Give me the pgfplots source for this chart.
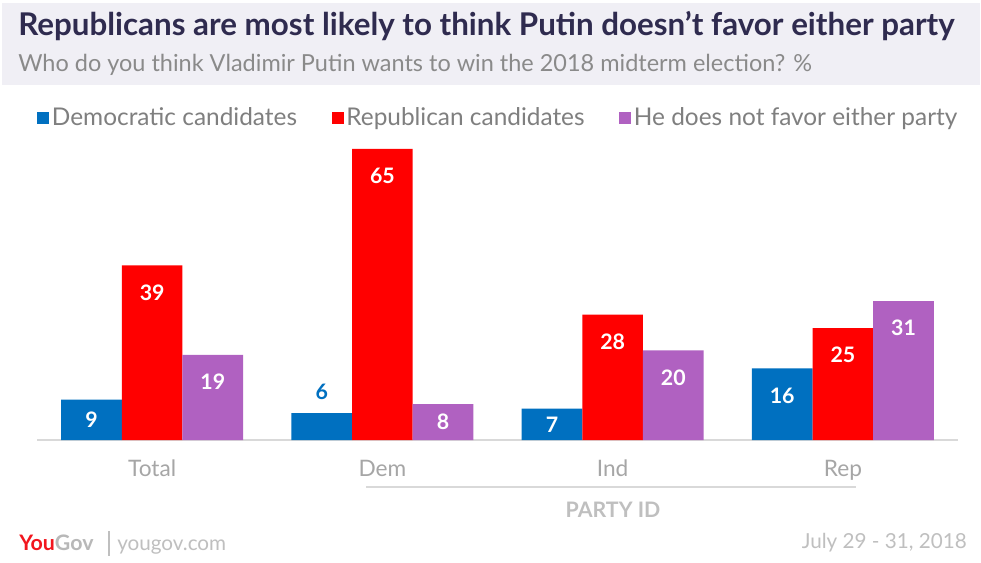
\documentclass[border=0pt]{standalone}
\usepackage{pgfplots}
\pgfplotsset{compat=1.18}
\usepackage{pgfplotstable}
\usepackage{fontspec}
\setmainfont{Lato}

\definecolor{hdrbg}{HTML}{F0EFF5}
\definecolor{titlecol}{HTML}{2F2B4F}
\definecolor{subgray}{HTML}{8A8A8A}
\definecolor{legendgray}{HTML}{7F7F7F}
\definecolor{tickgray}{HTML}{A6A6A6}
\definecolor{partygray}{HTML}{BFBFBF}
\definecolor{basegray}{HTML}{D9D9D9}
\definecolor{ygblue}{HTML}{0070C0}
\definecolor{ygred}{HTML}{FF0000}
\definecolor{ygpurple}{HTML}{B061C1}
\definecolor{logored}{HTML}{F2161E}
\definecolor{logogray}{HTML}{B8B8B8}

% 0 = Total, 1 = Dem, 2 = Ind, 3 = Rep
\pgfplotstableread{
x y
0 9
1 6
2 7
3 16
}\demcand
\pgfplotstableread{
x y
0 39
1 65
2 28
3 25
}\repcand
\pgfplotstableread{
x y
0 19
1 8
2 20
3 31
}\neither

\begin{document}
\begin{tikzpicture}[x=0.75pt,y=0.75pt]
% canvas 981x562 px, origin bottom left
\path[use as bounding box, fill=white] (0,0) rectangle (981,562);
\fill[hdrbg] (2,559) rectangle (980,477);

\node[anchor=base west, inner sep=0pt, text=titlecol, font=\bfseries\fontsize{23.5}{27}\selectfont]
  at (18,527) {Republicans are most likely to think Putin doesn't favor either party};
\node[anchor=base west, inner sep=0pt, text=subgray, font=\fontsize{17.6}{21}\selectfont]
  at (18,490) {Who do you think Vladimir Putin wants to win the 2018 midterm election? \%};

\begin{axis}[
    at={(27.75pt,91.5pt)}, anchor=south west,
    scale only axis,
    width=690.75pt, height=235.05pt,
    xmin=-0.5, xmax=3.5,
    ymin=0, ymax=70,
    ybar=0pt, bar width=45.5pt,
    axis x line*=bottom,
    axis y line=none,
    x axis line style={draw=basegray, line width=2.2pt, -},
    xtick={0,1,2,3},
    xticklabels={Total,Dem,Ind,Rep},
    major tick length=0pt,
    xticklabel style={font=\fontsize{17}{20}\selectfont, text=tickgray, anchor=base, yshift=-27pt},
    ytick=\empty,
    legend style={at={(0,1.0274)}, anchor=west, draw=none, fill=none,
      legend columns=-1, inner xsep=0pt,
      font=\fontsize{18.3}{21}\selectfont, text=legendgray,
      /tikz/every even column/.append style={column sep=24pt}},
    legend image code/.code={\fill[#1] (0pt,-4.5pt) rectangle (9pt,4.5pt);},
    visualization depends on={\thisrow{y} \as \val},
    nodes near coords={\ifdim\val pt<6.5pt\color{ygblue}\fi\pgfmathprintnumber[assume math mode=true]{\val}},
    every node near coord/.append style={font=\bfseries\fontsize{16}{18}\selectfont,
      text=white, anchor=center,
      yshift={\val<6.5 ? 15.75 : (\val<12 ? -\val*1.679 : -20.25)}},
]
\addplot[fill=ygblue, draw=none] table[x=x, y=y] {\demcand};
\addlegendentry{Democratic candidates}
\addplot[fill=ygred, draw=none] table[x=x, y=y] {\repcand};
\addlegendentry{Republican candidates}
\addplot[fill=ygpurple, draw=none] table[x=x, y=y] {\neither};
\addlegendentry{He does not favor either party}
\end{axis}

% party id bracket
\draw[basegray, line width=1.5pt] (366,75) -- (856,75);
\node[anchor=base, inner sep=0pt, text=partygray, font=\bfseries\fontsize{16}{18}\selectfont]
  at (613,45) {PARTY ID};

% footer
\node[anchor=base west, inner sep=0pt, font=\bfseries\fontsize{16}{18}\selectfont]
  at (19,12) {\textcolor{logored}{You}\textcolor{logogray}{Gov}};
\draw[partygray, line width=0.8pt] (109,31) -- (109,6);
\node[anchor=base west, inner sep=0pt, text=partygray, font=\fontsize{15.5}{18}\selectfont]
  at (117,12) {yougov.com};
\node[anchor=base east, inner sep=0pt, text=partygray, font=\fontsize{15.5}{18}\selectfont]
  at (967,14) {July 29 - 31, 2018};
\end{tikzpicture}
\end{document}
